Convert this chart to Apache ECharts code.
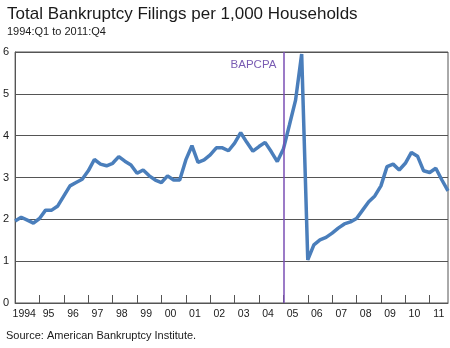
<!DOCTYPE html>
<html>
<head>
<meta charset="utf-8">
<script src="https://cdn.jsdelivr.net/npm/echarts@6/dist/echarts.min.js"></script>
<style>
html,body{margin:0;padding:0;background:#fff;}
#chart{width:450px;height:348px;}
</style>
</head>
<body>
<div id="chart"></div>
<script>
var years = [1994,1995,1996,1997,1998,1999,2000,2001,2002,2003,2004,2005,2006,2007,2008,2009,2010,2011];
var yearLabels = ["1994","95","96","97","98","99","00","01","02","03","04","05","06","07","08","09","10","11"];
var filings = [
  1.96, 2.05, 1.98, 1.91,
  2.02, 2.22, 2.22, 2.32,
  2.56, 2.80, 2.88, 2.96,
  3.16, 3.43, 3.32, 3.28,
  3.34, 3.50, 3.39, 3.30,
  3.10, 3.18, 3.04, 2.94,
  2.88, 3.04, 2.94, 2.94,
  3.42, 3.76, 3.36, 3.42,
  3.54, 3.71, 3.71, 3.64,
  3.82, 4.07, 3.84, 3.63,
  3.74, 3.84, 3.62, 3.38,
  3.68, 4.26, 4.85, 5.95,
  1.03, 1.39, 1.51, 1.57,
  1.67, 1.79, 1.89, 1.94,
  2.02, 2.22, 2.42, 2.56,
  2.80, 3.26, 3.32, 3.18,
  3.34, 3.60, 3.51, 3.16,
  3.12, 3.22, 2.94, 2.68
];
var yTicks = [0, 1, 2, 3, 4, 5, 6];
var bapcpaQuarter = "2005:Q1";
var bapcpaLabel = "BAPCPA";

var quarters = [];
years.forEach(function (y) {
  for (var q = 1; q <= 4; q++) quarters.push(y + ":Q" + q);
});

var FONT = "Liberation Sans, Arial, sans-serif";
var chart = echarts.init(document.getElementById('chart'), null, {renderer: 'canvas'});
chart.setOption({
  animation: false,
  backgroundColor: '#ffffff',
  textStyle: {fontFamily: FONT},
  title: [
    {text: 'Total Bankruptcy Filings per 1,000 Households', left: 2, top: 1,
     textStyle: {fontFamily: FONT, fontSize: 17, fontWeight: 'normal', color: '#1a1a1a'}},
    {text: '1994:Q1 to 2011:Q4', left: 2, top: 21,
     textStyle: {fontFamily: FONT, fontSize: 11, fontWeight: 'normal', color: '#1a1a1a'}},
    {text: 'Source: American Bankruptcy Institute.', left: 1, top: 325,
     textStyle: {fontFamily: FONT, fontSize: 11, fontWeight: 'normal', color: '#1a1a1a'}}
  ],
  grid: {left: 14, right: 2, top: 52, bottom: 45, show: true, borderColor: '#555', borderWidth: 1},
  xAxis: {
    type: 'category',
    data: quarters,
    boundaryGap: false,
    axisLine: {show: true, lineStyle: {color: '#555', width: 1}},
    axisTick: {show: true, inside: true, length: 8, lineStyle: {color: '#555'},
      interval: function (i) { return i % 4 === 0 && i > 0; }},
    axisLabel: {
      interval: function (i) { return i % 4 === 1; },
      formatter: function (v, i) { return yearLabels[Math.floor(i / 4)]; },
      padding: [0, 0, 0, 6],
      margin: 6,
      fontSize: 10.5, color: '#1a1a1a', fontFamily: FONT
    },
    splitLine: {show: false}
  },
  yAxis: {
    type: 'value',
    min: yTicks[0], max: yTicks[yTicks.length - 1], interval: 1,
    axisLine: {show: true, lineStyle: {color: '#555'}},
    axisTick: {show: false},
    axisLabel: {margin: 6, fontSize: 11, color: '#1a1a1a', fontFamily: FONT},
    splitLine: {show: true, lineStyle: {color: '#555', width: 1}}
  },
  series: [{
    type: 'line',
    data: filings,
    symbol: 'none',
    lineStyle: {color: '#4a7ebb', width: 3.5},
    itemStyle: {color: '#4a7ebb'},
    markLine: {
      silent: true,
      symbol: ['none', 'none'],
      label: {show: false},
      lineStyle: {color: '#7a4fb5', width: 1.5, type: 'solid'},
      data: [{xAxis: bapcpaQuarter}]
    },
    markPoint: {
      silent: true,
      symbol: 'circle',
      symbolSize: 0,
      itemStyle: {color: 'rgba(0,0,0,0)'},
      label: {show: true, position: 'left', distance: 7, formatter: bapcpaLabel,
        color: '#7a5cb3', fontSize: 11.5, fontFamily: FONT},
      data: [{coord: [bapcpaQuarter, 5.69]}]
    }
  }]
});
</script>
</body>
</html>
